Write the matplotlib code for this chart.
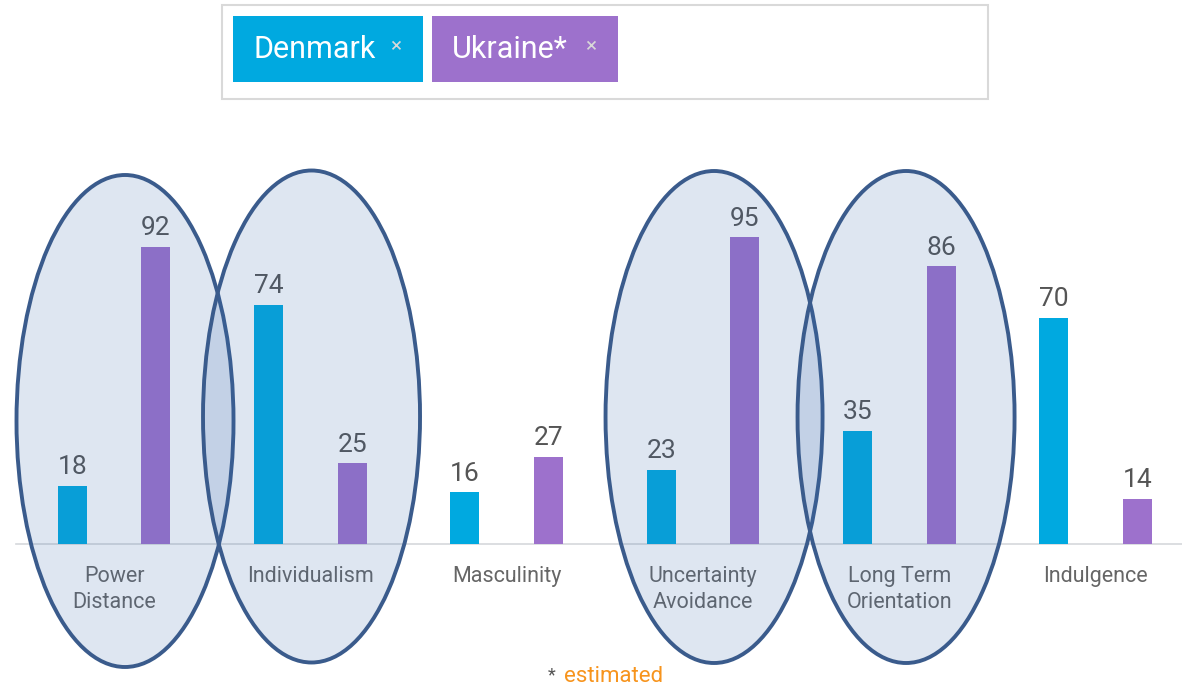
import numpy as np
import matplotlib
matplotlib.use("Agg")
from matplotlib import pyplot as plt
from matplotlib.patches import Ellipse, Rectangle

# data
dimensions = ["Power\nDistance", "Individualism", "Masculinity",
              "Uncertainty\nAvoidance", "Long Term\nOrientation", "Indulgence"]
denmark = [18, 74, 16, 23, 35, 70]
ukraine = [92, 25, 27, 95, 86, 14]
highlighted = [0, 1, 3, 4]  # dimensions circled in the picture

c_dk = "#00a9e0"
c_ua = "#9d71cc"
W, H = 1182, 687

plt.rcParams['font.family'] = ['Roboto', 'DejaVu Sans']

fig = plt.figure(figsize=(W / 100, H / 100), dpi=100)
ax = fig.add_axes([0, 0, 1, 1])

# axis scaling: group spacing ~196 px, 1 unit of value ~3.23 px, baseline at y=544 px
x = np.arange(len(dimensions))
ax.set_xlim(-0.581, 5.44)
ax.set_ylim(-(H - 544) / 3.23, 544 / 3.23)
ax.axis("off")

off, bw = 0.213, 0.148
ax.bar(x - off, denmark, width=bw, color=c_dk, zorder=2)
ax.bar(x + off, ukraine, width=bw, color=c_ua, zorder=2)
ax.plot([-0.50, 5.44], [0, 0], color="#d5d8dc", lw=1.2, zorder=1)

for i in range(len(x)):
    ax.text(x[i] - off, denmark[i] + 3.6, str(denmark[i]), ha="center", va="baseline",
            fontsize=19, color="#555555", zorder=3)
    ax.text(x[i] + off, ukraine[i] + 3.6, str(ukraine[i]), ha="center", va="baseline",
            fontsize=19, color="#555555", zorder=3)
    ax.text(x[i], -6.8, dimensions[i], ha="center", va="top", fontsize=15.5,
            color="#666666", linespacing=1.3, zorder=3)

# circled dimensions (centres in pixels, slightly off the group centres)
ell_px = {0: (125, 421), 1: (311.5, 416.5), 3: (714, 417), 4: (906, 417)}
for i in highlighted:
    cx, cy = ell_px[i]
    e = Ellipse((cx / 196.3 - 0.581, (544 - cy) / 3.23), width=217 / 196.3,
                height=492 / 3.23,
                facecolor=(55 / 255, 105 / 255, 174 / 255, 0.16),
                edgecolor="#3a5b8c", lw=2.8, zorder=4)
    ax.add_patch(e)

# legend chips at the top
def px(x0, y0, w, h):
    return (x0 / W, 1 - (y0 + h) / H), w / W, h / H

xy, w, h = px(222, 5, 766, 94)
fig.patches.append(Rectangle(xy, w, h, transform=fig.transFigure, facecolor="white",
                             edgecolor="#d9d9d9", lw=1.5))
for x0, w0, name, xm, col in [(233, 190, "Denmark", 396, c_dk),
                              (432, 186, "Ukraine*", 591, c_ua)]:
    xy, w, h = px(x0, 16, w0, 66)
    fig.patches.append(Rectangle(xy, w, h, transform=fig.transFigure, facecolor=col,
                                 edgecolor="none"))
    fig.text((x0 + 20) / W, 1 - 49 / H, name, color="white", fontsize=22,
             ha="left", va="center")
    fig.text(xm / W, 1 - 47 / H, "\u00d7", color="#d8d8d8", fontsize=15,
             ha="center", va="center")

fig.text(552 / W, 1 - 675 / H, "*", color="#555555", fontsize=13, ha="center", va="center")
fig.text(564 / W, 1 - 677 / H, "estimated", color="#f7941d", fontsize=16,
         ha="left", va="center")

fig.savefig("out.png", dpi=100)
